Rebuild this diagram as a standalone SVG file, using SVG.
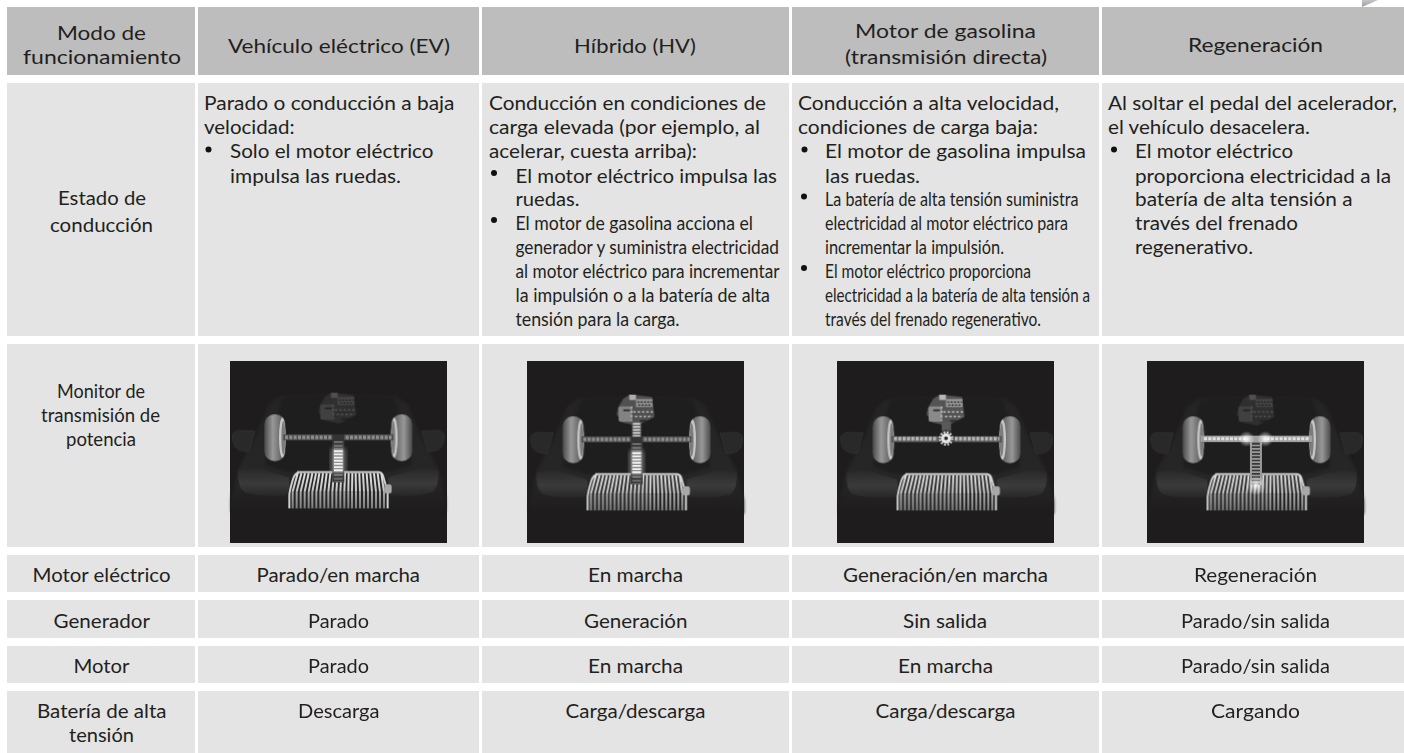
<svg xmlns="http://www.w3.org/2000/svg" xmlns:xlink="http://www.w3.org/1999/xlink" width="1404" height="753" viewBox="0 0 1404 753">
<style>
text{font-family:Lato,"Noto Sans","Liberation Sans",sans-serif;font-size:19.5px;fill:#231f20;transform:translate(0,1px)}
.h{fill:#bdbdbd}.c{fill:#e4e4e4}.b{fill:#111}.bg{fill:#1e1c1d}
</style>
<defs>
<filter id="s" x="-5%" y="-5%" width="110%" height="110%" color-interpolation-filters="sRGB"><feGaussianBlur stdDeviation="1.8"/></filter>
<filter id="s2" x="-30%" y="-30%" width="160%" height="160%" color-interpolation-filters="sRGB"><feGaussianBlur stdDeviation="7"/></filter>
<filter id="s3" x="-5%" y="-5%" width="110%" height="110%" color-interpolation-filters="sRGB"><feGaussianBlur stdDeviation="4"/></filter>
<linearGradient id="tri" x1="0" y1="0" x2="0" y2="1"><stop offset="0" stop-color="#c4c4c8"/><stop offset="1" stop-color="#9a9aa2"/></linearGradient>
<linearGradient id="bodyG" x1="0" y1="0" x2="0" y2="1"><stop offset="0" stop-color="#252425"/><stop offset=".7" stop-color="#272627"/><stop offset="1" stop-color="#1e1c1d"/></linearGradient>
<linearGradient id="wheelG" x1="0" y1="0" x2="1" y2="0"><stop offset="0" stop-color="#4a4a4a"/><stop offset=".4" stop-color="#989898"/><stop offset=".72" stop-color="#707070"/><stop offset="1" stop-color="#4a4a4a"/></linearGradient>
<linearGradient id="lumpG" x1="0" y1="0" x2="0" y2="1"><stop offset="0" stop-color="#2a292a"/><stop offset=".55" stop-color="#3c3b3c"/><stop offset="1" stop-color="#282828"/></linearGradient>
<linearGradient id="finG" gradientUnits="userSpaceOnUse" x1="0" y1="352" x2="0" y2="412"><stop offset="0" stop-color="#e2e2e2"/><stop offset="1" stop-color="#c4c4c4"/></linearGradient>
<linearGradient id="fin2G" gradientUnits="userSpaceOnUse" x1="0" y1="410" x2="0" y2="462"><stop offset="0" stop-color="#aaa"/><stop offset="1" stop-color="#7a7a7a"/></linearGradient>
<radialGradient id="glow"><stop offset="0" stop-color="#fff" stop-opacity=".95"/><stop offset=".45" stop-color="#fff" stop-opacity=".45"/><stop offset="1" stop-color="#fff" stop-opacity="0"/></radialGradient>
<g id="side">
<path d="M22 245Q22 228 45 226L90 228L72 290Q40 290 30 275Q22 262 22 245Z" fill="#2a292a" stroke="#383738" stroke-width="2"/>
<path d="M40 345Q90 335 120 345L192 368Q204 395 184 420Q110 428 58 412Q36 395 40 345Z" fill="url(#lumpG)"/>
<rect x="118" y="178" width="64" height="140" rx="30" fill="url(#wheelG)"/>
<ellipse cx="172" cy="248" rx="10" ry="60" fill="#c8c8c8"/>
<ellipse cx="175" cy="248" rx="6" ry="50" fill="#7c7c7c"/>
</g>
<g id="engine">
<path d="M284 152L300 125L320 112L386 120L394 180L342 206L296 196L280 172Z" fill="#555455"/>
<rect x="286" y="148" width="40" height="46" rx="5" fill="#8a8a8a"/>
<rect x="318" y="113" width="20" height="16" fill="#b8b8b8"/>
<path d="M338 126H388V150H338Z" fill="#999"/>
<path d="M342 135H386M345 144H384" stroke="#222" stroke-width="4" stroke-dasharray="6 4"/>
<path d="M330 165H392M335 178H388M325 148V192" stroke="#c4c4c4" stroke-width="4.5" stroke-dasharray="7 6"/>
<path d="M300 160H320M350 192H372" stroke="#2a2a2a" stroke-width="5"/>
</g>
<g id="car">
<g filter="url(#s3)">
<path d="M165 124Q340 114 515 124L550 150L590 250L640 340L662 432L662 470H18L18 432L40 340L90 250L130 150Z" fill="url(#bodyG)"/>
<path d="M172 128Q340 118 508 128L525 185L562 330L490 352H190L118 330L155 185Z" fill="#1f1e1f"/>
</g>
<g filter="url(#s)">
<use xlink:href="#side" href="#side"/>
<use xlink:href="#side" href="#side" transform="translate(680 0) scale(-1 1)"/>
<rect x="175" y="238" width="330" height="18" fill="#4c4c4c"/>
<line x1="180" y1="247" x2="500" y2="247" stroke="#8e8e8e" stroke-width="11" stroke-dasharray="9 4"/>
<rect x="322" y="238" width="36" height="20" fill="#333"/>
<rect x="193" y="352" width="297" height="110" rx="8" fill="#262626"/>
<path d="M193 460V420Q193 410 203 375Q208 356 222 352M216 351H462Q470 352 474 362L488 410V460" fill="none" stroke="#cfcfcf" stroke-width="6"/>
<path d="M218 355L203 410M229 355L215 410M240 355L227 410M251 355L239 410M262 355L251 410M273 355L262 410M283 355L274 410M294 355L286 410M305 355L298 410M316 355L310 410M327 355L322 410M338 355L334 410M349 355L346 410M360 355L358 410M371 355L370 410M382 355L381 410M392 355L393 410M403 355L405 410M414 355L417 410M425 355L429 410M436 355L441 410M447 355L453 410M458 355L465 410M469 355L477 410" stroke="url(#finG)" stroke-width="6" fill="none"/>
<path d="M203 410V460M215 410V460M227 410V460M239 410V460M251 410V460M262 410V460M274 410V460M286 410V460M298 410V460M310 410V460M322 410V460M334 410V460M346 410V460M358 410V460M370 410V460M381 410V460M393 410V460M405 410V460M417 410V460M429 410V460M441 410V460M453 410V460M465 410V460M477 410V460" stroke="url(#fin2G)" stroke-width="6" fill="none"/>
<rect x="478" y="388" width="22" height="27" rx="6" fill="#a8a8a8"/>
</g>
</g>
<g id="lower" filter="url(#s)">
<rect x="322" y="256" width="36" height="126" fill="#3a3a3a"/>
<line x1="340" y1="258" x2="340" y2="382" stroke="#6a6a6a" stroke-width="26" stroke-dasharray="6 5"/>
<rect x="316" y="278" width="48" height="78" rx="12" fill="#fff" opacity=".28" filter="url(#s2)"/>
<rect x="325" y="282" width="30" height="70" rx="3" fill="#8f8f8f"/>
<line x1="340" y1="286" x2="340" y2="350" stroke="#efefef" stroke-width="26" stroke-dasharray="5.5 4"/>
</g>
</defs>

<polygon points="1362,0 1378,0 1362,7" fill="url(#tri)"/>

<g id="header">
<rect class="h" x="7" y="7" width="188" height="68"/><rect class="h" x="198" y="7" width="281" height="68"/><rect class="h" x="482" y="7" width="307" height="68"/><rect class="h" x="792" y="7" width="307" height="68"/><rect class="h" x="1102" y="7" width="302" height="68"/>
<g style="font-size:21px">
<text x="57" y="39" textLength="89" lengthAdjust="spacingAndGlyphs">Modo de</text>
<text x="23" y="63" textLength="158" lengthAdjust="spacingAndGlyphs">funcionamiento</text>
<text x="228" y="51.5" textLength="222" lengthAdjust="spacingAndGlyphs">Vehículo eléctrico (EV)</text>
<text x="574" y="51.5" textLength="122" lengthAdjust="spacingAndGlyphs">Híbrido (HV)</text>
<text x="855" y="36.5" textLength="181" lengthAdjust="spacingAndGlyphs">Motor de gasolina</text>
<text x="845" y="63" textLength="202" lengthAdjust="spacingAndGlyphs">(transmisión directa)</text>
<text x="1188" y="50.5" textLength="135" lengthAdjust="spacingAndGlyphs">Regeneración</text>
</g>
</g>

<g id="row-estado">
<rect class="c" x="7" y="83" width="188" height="253"/><rect class="c" x="198" y="83" width="281" height="253"/><rect class="c" x="482" y="83" width="307" height="253"/><rect class="c" x="792" y="83" width="307" height="253"/><rect class="c" x="1102" y="83" width="302" height="253"/>
<text x="58" y="204" textLength="88" lengthAdjust="spacingAndGlyphs">Estado de</text>
<text x="50" y="230.5" textLength="103" lengthAdjust="spacingAndGlyphs">conducción</text>
<g id="estado-ev">
<text x="204" y="109" textLength="250.5" lengthAdjust="spacingAndGlyphs">Parado o conducción a baja</text>
<text x="204" y="133" textLength="90.5" lengthAdjust="spacingAndGlyphs">velocidad:</text>
<circle class="b" cx="208.5" cy="149.5" r="3"/>
<text x="230" y="157" textLength="203.5" lengthAdjust="spacingAndGlyphs">Solo el motor eléctrico</text>
<text x="230" y="181.5" textLength="171" lengthAdjust="spacingAndGlyphs">impulsa las ruedas.</text>
</g>
<g id="estado-hv">
<text x="489" y="109" textLength="277" lengthAdjust="spacingAndGlyphs">Conducción en condiciones de</text>
<text x="489" y="133" textLength="271" lengthAdjust="spacingAndGlyphs">carga elevada (por ejemplo, al</text>
<text x="489" y="157" textLength="208" lengthAdjust="spacingAndGlyphs">acelerar, cuesta arriba):</text>
<circle class="b" cx="494" cy="173" r="3"/>
<text x="515.5" y="181.5" textLength="261.5" lengthAdjust="spacingAndGlyphs">El motor eléctrico impulsa las</text>
<text x="515.5" y="205" textLength="64" lengthAdjust="spacingAndGlyphs">ruedas.</text>
<circle class="b" cx="494" cy="220" r="3"/>
<text x="515.5" y="229" textLength="237.5" lengthAdjust="spacingAndGlyphs">El motor de gasolina acciona el</text>
<text x="515.5" y="253" textLength="263.5" lengthAdjust="spacingAndGlyphs">generador y suministra electricidad</text>
<text x="515.5" y="276.5" textLength="264" lengthAdjust="spacingAndGlyphs">al motor eléctrico para incrementar</text>
<text x="515.5" y="300.5" textLength="254.5" lengthAdjust="spacingAndGlyphs">la impulsión o a la batería de alta</text>
<text x="515.5" y="325" textLength="164" lengthAdjust="spacingAndGlyphs">tensión para la carga.</text>
</g>
<g id="estado-motor">
<text x="798" y="109" textLength="261" lengthAdjust="spacingAndGlyphs">Conducción a alta velocidad,</text>
<text x="798" y="133" textLength="240" lengthAdjust="spacingAndGlyphs">condiciones de carga baja:</text>
<circle class="b" cx="804.5" cy="149.5" r="3"/>
<text x="825" y="157" textLength="261" lengthAdjust="spacingAndGlyphs">El motor de gasolina impulsa</text>
<text x="825" y="181.5" textLength="95" lengthAdjust="spacingAndGlyphs">las ruedas.</text>
<circle class="b" cx="804" cy="196.5" r="3"/>
<text x="825" y="205" textLength="253.5" lengthAdjust="spacingAndGlyphs">La batería de alta tensión suministra</text>
<text x="825" y="229" textLength="243" lengthAdjust="spacingAndGlyphs">electricidad al motor eléctrico para</text>
<text x="825" y="253" textLength="179" lengthAdjust="spacingAndGlyphs">incrementar la impulsión.</text>
<circle class="b" cx="804" cy="268" r="3"/>
<text x="825" y="277" textLength="206" lengthAdjust="spacingAndGlyphs">El motor eléctrico proporciona</text>
<text x="825" y="300.5" textLength="265" lengthAdjust="spacingAndGlyphs">electricidad a la batería de alta tensión a</text>
<text x="825" y="325" textLength="216" lengthAdjust="spacingAndGlyphs">través del frenado regenerativo.</text>
</g>
<g id="estado-regen">
<text x="1108" y="109" textLength="289" lengthAdjust="spacingAndGlyphs">Al soltar el pedal del acelerador,</text>
<text x="1108" y="133" textLength="202" lengthAdjust="spacingAndGlyphs">el vehículo desacelera.</text>
<circle class="b" cx="1114" cy="149.5" r="3"/>
<text x="1135" y="157" textLength="158" lengthAdjust="spacingAndGlyphs">El motor eléctrico</text>
<text x="1135" y="181.5" textLength="256" lengthAdjust="spacingAndGlyphs">proporciona electricidad a la</text>
<text x="1135" y="205" textLength="217.5" lengthAdjust="spacingAndGlyphs">batería de alta tensión a</text>
<text x="1135" y="229" textLength="163" lengthAdjust="spacingAndGlyphs">través del frenado</text>
<text x="1135" y="253" textLength="118" lengthAdjust="spacingAndGlyphs">regenerativo.</text>
</g>
</g>

<g id="row-monitor">
<rect class="c" x="7" y="344" width="188" height="203"/><rect class="c" x="198" y="344" width="281" height="203"/><rect class="c" x="482" y="344" width="307" height="203"/><rect class="c" x="792" y="344" width="307" height="203"/><rect class="c" x="1102" y="344" width="302" height="203"/>
<text x="57" y="397" textLength="88" lengthAdjust="spacingAndGlyphs">Monitor de</text>
<text x="41" y="421" textLength="119" lengthAdjust="spacingAndGlyphs">transmisión de</text>
<text x="66" y="445" textLength="70" lengthAdjust="spacingAndGlyphs">potencia</text>

<g id="monitor-ev">
<rect class="bg" x="230" y="361" width="217" height="182"/>
<g transform="translate(225 355) scale(.3333)">
<use xlink:href="#car" href="#car"/>
<use xlink:href="#engine" href="#engine" opacity=".32" filter="url(#s)"/>
<use xlink:href="#lower" href="#lower"/>
</g>
</g>
<g id="monitor-hv">
<rect class="bg" x="527" y="361" width="217" height="182"/>
<g transform="translate(523.3 357) scale(.3333)">
<use xlink:href="#car" href="#car"/>
<use xlink:href="#engine" href="#engine" opacity=".95" filter="url(#s)"/>
<g filter="url(#s)">
<rect x="326" y="195" width="28" height="45" fill="#5c5c5c"/>
<line x1="340" y1="198" x2="340" y2="238" stroke="#d0d0d0" stroke-width="22" stroke-dasharray="5 4"/>
</g>
<use xlink:href="#lower" href="#lower"/>
</g>
</g>
<g id="monitor-motor">
<rect class="bg" x="837" y="361" width="217" height="182"/>
<g transform="translate(833.3 357) scale(.3333)">
<use xlink:href="#car" href="#car"/>
<use xlink:href="#engine" href="#engine" filter="url(#s)"/>
<g filter="url(#s)">
<rect x="325" y="195" width="28" height="35" fill="#5a5a5a"/>
<rect x="175" y="238" width="330" height="16" fill="#5c5c5c"/>
<line x1="182" y1="245" x2="498" y2="245" stroke="#bdbdbd" stroke-width="10" stroke-dasharray="9 4"/>
<circle cx="338" cy="244" r="26" fill="#1e1c1d" opacity=".6"/>
<circle cx="338" cy="244" r="18.5" fill="none" stroke="#e8e8e8" stroke-width="7" stroke-dasharray="5 4.7"/>
<circle cx="338" cy="244" r="15" fill="#e8e8e8"/>
<circle cx="338" cy="244" r="5.5" fill="#222"/>
</g>
</g>
</g>
<g id="monitor-regen">
<rect class="bg" x="1147" y="361" width="217" height="182"/>
<g transform="translate(1143.3 357) scale(.3333)">
<use xlink:href="#car" href="#car"/>
<use xlink:href="#engine" href="#engine" opacity=".32" filter="url(#s)"/>
<g filter="url(#s)">
<rect x="172" y="236" width="335" height="19" fill="#a0a0a0"/>
<line x1="182" y1="245" x2="310" y2="245" stroke="#e0e0e0" stroke-width="9" stroke-dasharray="9 4"/>
<line x1="370" y1="245" x2="498" y2="245" stroke="#e0e0e0" stroke-width="9" stroke-dasharray="9 4"/>
<rect x="320" y="256" width="36" height="128" fill="#9a9a9a"/>
<line x1="338" y1="258" x2="338" y2="388" stroke="#3a3a3a" stroke-width="24" stroke-dasharray="5 5"/>
<circle cx="310" cy="246" r="24" fill="url(#glow)"/>
<circle cx="366" cy="246" r="24" fill="url(#glow)"/>
<circle cx="338" cy="385" r="30" fill="url(#glow)"/>
</g>
</g>
</g>
</g>

<g id="row-motor-electrico">
<rect class="c" x="7" y="555" width="188" height="37"/><rect class="c" x="198" y="555" width="281" height="37"/><rect class="c" x="482" y="555" width="307" height="37"/><rect class="c" x="792" y="555" width="307" height="37"/><rect class="c" x="1102" y="555" width="302" height="37"/>
<text x="32.5" y="581" textLength="138" lengthAdjust="spacingAndGlyphs">Motor eléctrico</text>
<text x="256.5" y="581" textLength="163.5" lengthAdjust="spacingAndGlyphs">Parado/en marcha</text>
<text x="588" y="581" textLength="95" lengthAdjust="spacingAndGlyphs">En marcha</text>
<text x="843" y="581" textLength="205" lengthAdjust="spacingAndGlyphs">Generación/en marcha</text>
<text x="1194" y="581" textLength="123" lengthAdjust="spacingAndGlyphs">Regeneración</text>
</g>
<g id="row-generador">
<rect class="c" x="7" y="600" width="188" height="38"/><rect class="c" x="198" y="600" width="281" height="38"/><rect class="c" x="482" y="600" width="307" height="38"/><rect class="c" x="792" y="600" width="307" height="38"/><rect class="c" x="1102" y="600" width="302" height="38"/>
<text x="53.5" y="626.5" textLength="96.5" lengthAdjust="spacingAndGlyphs">Generador</text>
<text x="308" y="626.5" textLength="61" lengthAdjust="spacingAndGlyphs">Parado</text>
<text x="584" y="626.5" textLength="103.5" lengthAdjust="spacingAndGlyphs">Generación</text>
<text x="903" y="626.5" textLength="84" lengthAdjust="spacingAndGlyphs">Sin salida</text>
<text x="1181" y="626.5" textLength="149" lengthAdjust="spacingAndGlyphs">Parado/sin salida</text>
</g>
<g id="row-motor">
<rect class="c" x="7" y="646" width="188" height="37"/><rect class="c" x="198" y="646" width="281" height="37"/><rect class="c" x="482" y="646" width="307" height="37"/><rect class="c" x="792" y="646" width="307" height="37"/><rect class="c" x="1102" y="646" width="302" height="37"/>
<text x="73.5" y="671.5" textLength="56" lengthAdjust="spacingAndGlyphs">Motor</text>
<text x="308" y="671.5" textLength="61" lengthAdjust="spacingAndGlyphs">Parado</text>
<text x="588" y="671.5" textLength="95" lengthAdjust="spacingAndGlyphs">En marcha</text>
<text x="898" y="671.5" textLength="95" lengthAdjust="spacingAndGlyphs">En marcha</text>
<text x="1181" y="671.5" textLength="149" lengthAdjust="spacingAndGlyphs">Parado/sin salida</text>
</g>
<g id="row-bateria">
<rect class="c" x="7" y="691" width="188" height="62"/><rect class="c" x="198" y="691" width="281" height="62"/><rect class="c" x="482" y="691" width="307" height="62"/><rect class="c" x="792" y="691" width="307" height="62"/><rect class="c" x="1102" y="691" width="302" height="62"/>
<text x="37" y="716.5" textLength="129.5" lengthAdjust="spacingAndGlyphs">Batería de alta</text>
<text x="69" y="740.5" textLength="65" lengthAdjust="spacingAndGlyphs">tensión</text>
<text x="298" y="716.5" textLength="81.5" lengthAdjust="spacingAndGlyphs">Descarga</text>
<text x="565.5" y="716.5" textLength="140" lengthAdjust="spacingAndGlyphs">Carga/descarga</text>
<text x="875.5" y="716.5" textLength="140" lengthAdjust="spacingAndGlyphs">Carga/descarga</text>
<text x="1211" y="716.5" textLength="89" lengthAdjust="spacingAndGlyphs">Cargando</text>
</g>
</svg>
